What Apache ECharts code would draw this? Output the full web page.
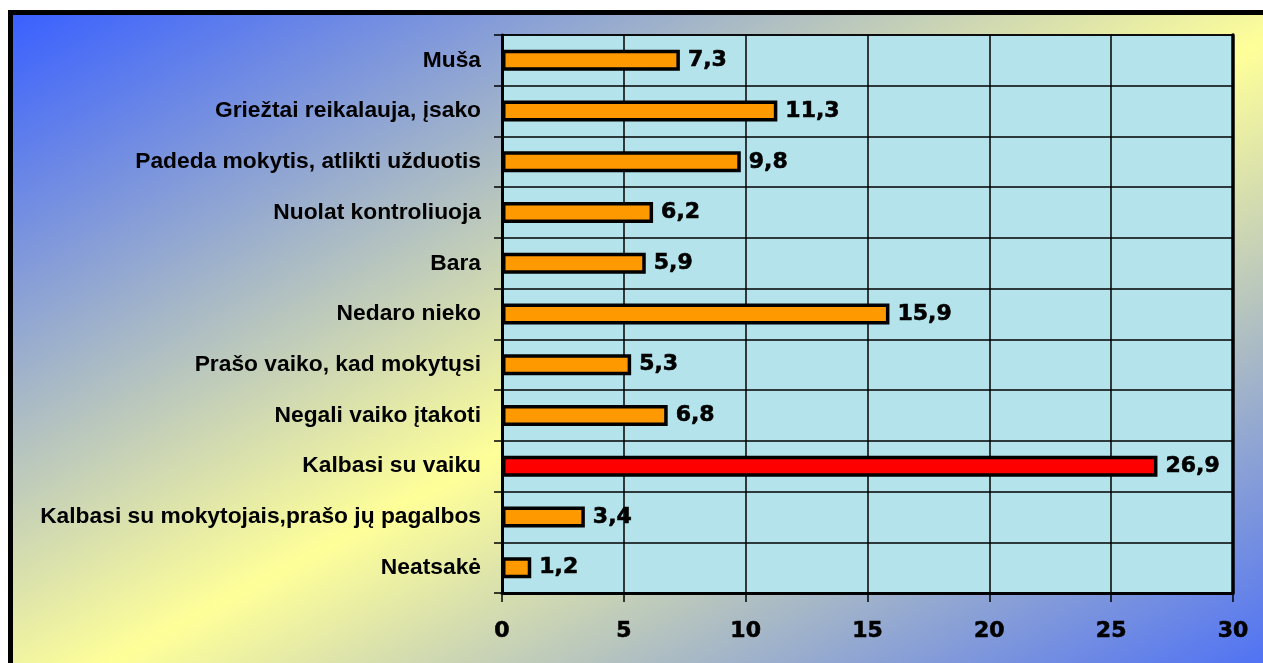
<!DOCTYPE html>
<html>
<head>
<meta charset="utf-8">
<script src="https://cdn.jsdelivr.net/npm/echarts@6/dist/echarts.min.js"></script>
<style>
  html, body { margin: 0; padding: 0; width: 1263px; height: 663px; overflow: hidden; background: #ffffff; }
  #frame {
    position: absolute; left: 8px; top: 10px; width: 1300px; height: 700px;
    border: 5px solid #000;
    background: linear-gradient(to bottom right, #3a60ff 0%, #ffff99 50%, #3a60ff 100%);
  }
  #chart { position: absolute; left: 0; top: 0; width: 1263px; height: 663px; }
</style>
</head>
<body>
<div id="frame"></div>
<div id="chart"></div>
<script>
// Answers, listed top to bottom
const categories = [
  'Muša',
  'Griežtai reikalauja, įsako',
  'Padeda mokytis, atlikti užduotis',
  'Nuolat kontroliuoja',
  'Bara',
  'Nedaro nieko',
  'Prašo vaiko, kad mokytųsi',
  'Negali vaiko įtakoti',
  'Kalbasi su vaiku',
  'Kalbasi su mokytojais,prašo jų pagalbos',
  'Neatsakė'
];
const values = [7.3, 11.3, 9.8, 6.2, 5.9, 15.9, 5.3, 6.8, 26.9, 3.4, 1.2];
const highlighted = 'Kalbasi su vaiku';
const xTicks = [0, 5, 10, 15, 20, 25, 30];

const chart = echarts.init(document.getElementById('chart'), null, { renderer: 'canvas' });

const seriesData = values.map((v, i) => ({
  value: v,
  itemStyle: { color: categories[i] === highlighted ? '#ff0000' : '#ff9900' }
}));

const numberFont = {
  color: '#000', fontFamily: 'DejaVu Sans', fontWeight: 'bold', fontSize: 22,
  textBorderColor: '#000', textBorderWidth: 0.6
};

const option = {
  animation: false,
  backgroundColor: 'transparent',
  grid: {
    left: 502, right: 30, top: 35, bottom: 70,
    show: true, backgroundColor: '#b4e3eb', borderColor: '#000', borderWidth: 1.5
  },
  xAxis: {
    type: 'value',
    min: xTicks[0], max: xTicks[xTicks.length - 1], interval: 5,
    axisLine: { show: true, lineStyle: { color: '#000', width: 3 } },
    axisTick: { show: true, length: 9, lineStyle: { color: '#000', width: 1.5 } },
    splitLine: { show: true, lineStyle: { color: '#000', width: 1.5 } },
    axisLabel: Object.assign({ margin: 27 }, numberFont)
  },
  yAxis: [{
    type: 'category',
    data: categories,
    inverse: true,
    axisLine: { show: true, lineStyle: { color: '#000', width: 3 } },
    axisTick: { show: true, length: 8, lineStyle: { color: '#000', width: 1.5 } },
    splitLine: { show: true, lineStyle: { color: '#000', width: 1.5 } },
    axisLabel: {
      color: '#000', fontFamily: 'Liberation Sans', fontWeight: 'bold', fontSize: 22.8, margin: 21
    }
  }, {
    type: 'category',
    data: categories,
    inverse: true,
    position: 'right',
    axisLine: { show: true, lineStyle: { color: '#000', width: 3.5 } },
    axisTick: { show: false },
    axisLabel: { show: false },
    splitLine: { show: false }
  }],
  series: [{
    type: 'bar',
    yAxisIndex: 0,
    data: seriesData,
    barWidth: 21,
    itemStyle: { borderColor: '#000', borderWidth: 3.5 },
    label: Object.assign({
      show: true, position: 'right', distance: 8,
      formatter: p => String(p.value).replace('.', ',')
    }, numberFont)
  }]
};

chart.setOption(option);
</script>
</body>
</html>
